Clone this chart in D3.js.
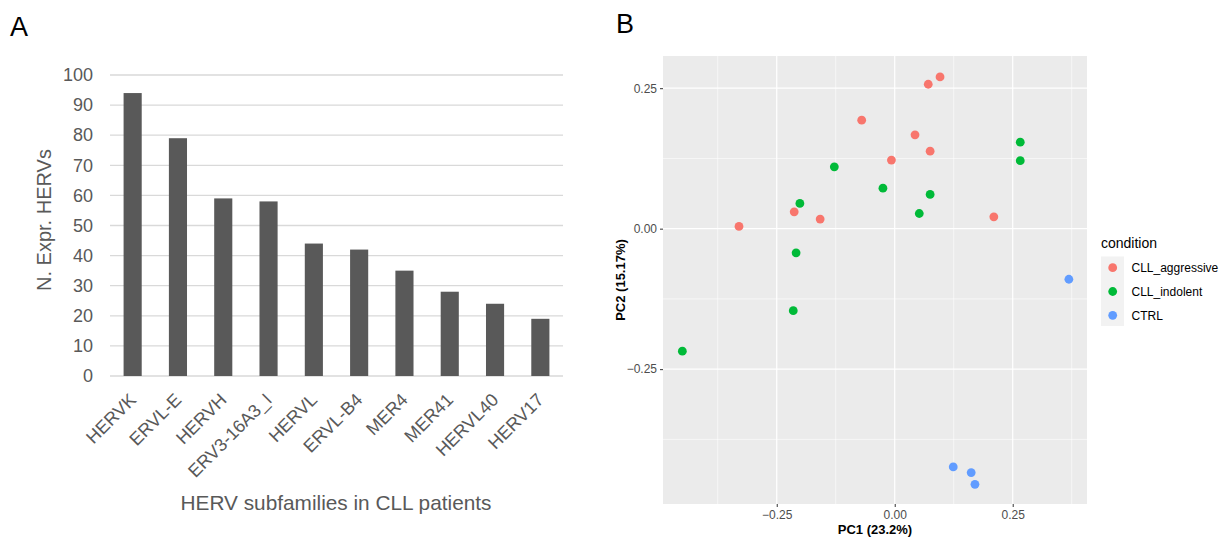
<!DOCTYPE html>
<html>
<head>
<meta charset="utf-8">
<script src="https://cdn.jsdelivr.net/npm/d3@7"></script>
<style>
  body { margin: 0; background: #fff; }
  svg { display: block; font-family: "Liberation Sans", Arial, sans-serif; }
</style>
</head>
<body>
<svg id="chart" width="1223" height="537"></svg>
<script>
// panel A data
const families = ['HERVK', 'ERVL-E', 'HERVH', 'ERV3-16A3_I', 'HERVL', 'ERVL-B4', 'MER4', 'MER41', 'HERVL40', 'HERV17'];
const counts = [94, 79, 59, 58, 44, 42, 35, 28, 24, 19];
const countTicks = [0, 10, 20, 30, 40, 50, 60, 70, 80, 90, 100];

// panel B data (PC1, PC2 per sample)
const conditions = ['CLL_aggressive', 'CLL_indolent', 'CTRL'];
const condColors = ['#F8766D', '#00BA38', '#619CFF'];
const aggressivePC1 = [-0.330, -0.213, -0.158, -0.070, -0.007, 0.043, 0.075, 0.071, 0.096, 0.210];
const aggressivePC2 = [0.004, 0.030, 0.017, 0.193, 0.122, 0.167, 0.138, 0.257, 0.270, 0.021];
const indolentPC1 = [-0.128, -0.025, 0.075, 0.052, -0.201, -0.209, 0.266, 0.266, -0.215, -0.450];
const indolentPC2 = [0.110, 0.072, 0.061, 0.027, 0.045, -0.043, 0.154, 0.121, -0.146, -0.218];
const ctrlPC1 = [0.124, 0.162, 0.170, 0.369];
const ctrlPC2 = [-0.424, -0.434, -0.455, -0.090];
const pcTicks = [-0.25, 0, 0.25];

const svg = d3.select('#chart');

// ---------- panel A: bar chart ----------
svg.append('text').attr('x', 10).attr('y', 36).attr('font-size', 27).attr('fill', '#000').text('A');

const aLeft = 110, aRight = 563;
const ax = d3.scaleBand().domain(families).range([aLeft, aRight]).paddingInner(0.6).paddingOuter(0.3);
const ay = d3.scaleLinear().domain([0, 100]).range([376, 75]);

const gA = svg.append('g');

gA.selectAll('.grid').data(countTicks).join('line')
    .attr('x1', aLeft).attr('x2', aRight)
    .attr('y1', d => ay(d)).attr('y2', d => ay(d))
    .attr('stroke', '#d9d9d9').attr('stroke-width', 1.3);

gA.selectAll('.bar').data(counts).join('rect')
    .attr('x', (d, i) => ax(families[i]))
    .attr('y', d => ay(d))
    .attr('width', ax.bandwidth())
    .attr('height', d => ay(0) - ay(d))
    .attr('fill', '#595959');

const yAxisA = d3.axisLeft(ay).tickValues(countTicks).tickSize(0).tickPadding(17);
gA.append('g').attr('transform', `translate(${aLeft},0)`).call(yAxisA)
    .call(g => g.select('.domain').remove())
    .call(g => g.selectAll('text').attr('font-size', 18).attr('fill', '#595959').attr('font-family', '"Liberation Sans", Arial, sans-serif'));

gA.selectAll('.xlab').data(families).join('text')
    .attr('transform', d => `translate(${ax(d) + ax.bandwidth() / 2 + 4.5},401) rotate(-45)`)
    .attr('text-anchor', 'end')
    .attr('font-size', 18).attr('fill', '#595959')
    .text(d => d);

gA.append('text')
    .attr('transform', 'translate(51,220) rotate(-90)')
    .attr('text-anchor', 'middle').attr('font-size', 20).attr('fill', '#595959')
    .text('N. Expr. HERVs');

gA.append('text')
    .attr('x', 336).attr('y', 510)
    .attr('text-anchor', 'middle').attr('font-size', 20.8).attr('fill', '#595959')
    .text('HERV subfamilies in CLL patients');

// ---------- panel B: PCA scatter ----------
svg.append('text').attr('x', 616).attr('y', 33).attr('font-size', 27).attr('fill', '#000').text('B');

const pLeft = 663, pRight = 1087, pTop = 56, pBottom = 504;
const bx = d3.scaleLinear().domain([-0.491, 0.4074]).range([pLeft, pRight]);
const by = d3.scaleLinear().domain([-0.49, 0.3073]).range([pBottom, pTop]);

const gB = svg.append('g');
gB.append('rect').attr('x', pLeft).attr('y', pTop).attr('width', pRight - pLeft).attr('height', pBottom - pTop).attr('fill', '#EBEBEB');

const minorX = [-0.375, -0.125, 0.125, 0.375];
const minorY = [-0.375, -0.125, 0.125];
gB.selectAll('.mx').data(minorX).join('line')
    .attr('x1', d => bx(d)).attr('x2', d => bx(d)).attr('y1', pTop).attr('y2', pBottom)
    .attr('stroke', '#fff').attr('stroke-width', 0.6);
gB.selectAll('.my').data(minorY).join('line')
    .attr('y1', d => by(d)).attr('y2', d => by(d)).attr('x1', pLeft).attr('x2', pRight)
    .attr('stroke', '#fff').attr('stroke-width', 0.6);
gB.selectAll('.Mx').data(pcTicks).join('line')
    .attr('x1', d => bx(d)).attr('x2', d => bx(d)).attr('y1', pTop).attr('y2', pBottom)
    .attr('stroke', '#fff').attr('stroke-width', 1.2);
gB.selectAll('.My').data(pcTicks).join('line')
    .attr('y1', d => by(d)).attr('y2', d => by(d)).attr('x1', pLeft).attr('x2', pRight)
    .attr('stroke', '#fff').attr('stroke-width', 1.2);

const fmt = d3.format('.2f');
const styleAxis = g => {
    g.select('.domain').remove();
    g.selectAll('line').attr('stroke', '#333');
    g.selectAll('text').attr('font-size', 12).attr('fill', '#4D4D4D').attr('font-family', '"Liberation Sans", Arial, sans-serif');
};
gB.append('g').attr('transform', `translate(0,${pBottom})`)
    .call(d3.axisBottom(bx).tickValues(pcTicks).tickFormat(fmt).tickSize(3).tickPadding(3))
    .call(styleAxis);
gB.append('g').attr('transform', `translate(${pLeft},0)`)
    .call(d3.axisLeft(by).tickValues(pcTicks).tickFormat(fmt).tickSize(3).tickPadding(3))
    .call(styleAxis);

const groups = [
    { pc1: aggressivePC1, pc2: aggressivePC2 },
    { pc1: indolentPC1, pc2: indolentPC2 },
    { pc1: ctrlPC1, pc2: ctrlPC2 }
];
groups.forEach((grp, gi) => {
    gB.selectAll('.pt' + gi).data(grp.pc1).join('circle')
        .attr('cx', d => bx(d))
        .attr('cy', (d, i) => by(grp.pc2[i]))
        .attr('r', 4.4)
        .attr('fill', condColors[gi]);
});

gB.append('text')
    .attr('x', (pLeft + pRight) / 2).attr('y', 534)
    .attr('text-anchor', 'middle').attr('font-size', 13).attr('font-weight', 'bold').attr('fill', '#000')
    .text('PC1 (23.2%)');
gB.append('text')
    .attr('transform', `translate(625,${(pTop + pBottom) / 2}) rotate(-90)`)
    .attr('text-anchor', 'middle').attr('font-size', 13).attr('font-weight', 'bold').attr('fill', '#000')
    .text('PC2 (15.17%)');

// legend
const lg = gB.append('g');
lg.append('text').attr('x', 1101).attr('y', 248).attr('font-size', 14).attr('fill', '#000').text('condition');
lg.append('rect').attr('x', 1101).attr('y', 256.5).attr('width', 23).attr('height', 69.5).attr('fill', '#F2F2F2');
lg.selectAll('.key').data(conditions).join('circle')
    .attr('cx', 1112.7).attr('cy', (d, i) => 267.7 + i * 23.8)
    .attr('r', 4.4).attr('fill', (d, i) => condColors[i]);
lg.selectAll('.lab').data(conditions).join('text')
    .attr('x', 1131.5).attr('y', (d, i) => 267.7 + i * 23.8).attr('dy', '0.35em')
    .attr('font-size', 12).attr('fill', '#000')
    .text(d => d);
</script>
</body>
</html>
